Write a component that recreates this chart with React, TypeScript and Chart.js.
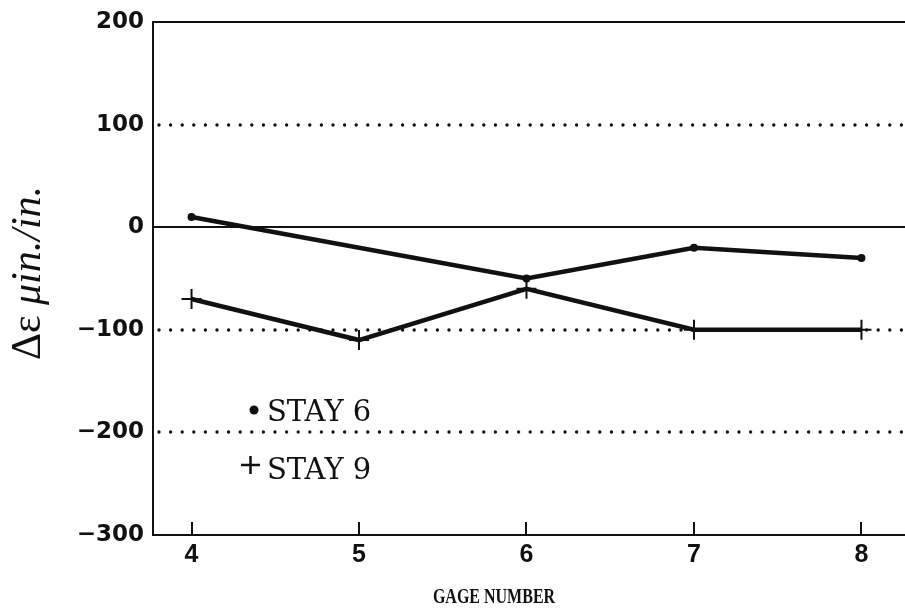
import React, { useEffect, useRef } from 'react';
import { Chart, registerables } from 'chart.js';

Chart.register(...registerables);

// ---- data ----
const gageNumbers = [4, 5, 6, 7, 8];
const stay6 = [10, null, -50, -20, -30];
const stay9 = [-70, -110, -60, -100, -100];
const yTickValues = [-300, -200, -100, 0, 100, 200];
const solidGridValues = [200, 0];
const dottedGridValues = [100, -100, -200];
const legendLabels = ['STAY 6', 'STAY 9'];
const xTitle = 'GAGE NUMBER';
const yTitleUpright = 'Δε ';
const yTitleItalic = 'μin./in.';

const INK = '#111';
const CANVAS_W = 917; // the plot frame runs off the right edge of the 905px view
const CANVAS_H = 611;

const decorPlugin = {
  id: 'decor',
  beforeDatasetsDraw(chart: any) {
    const { ctx, chartArea, scales } = chart;
    const y = scales.y;
    const x = scales.x;
    ctx.save();
    ctx.strokeStyle = INK;
    ctx.fillStyle = INK;
    ctx.lineWidth = 2;
    solidGridValues.forEach((v) => {
      const py = Math.round(y.getPixelForValue(v));
      ctx.beginPath();
      ctx.moveTo(chartArea.left, py);
      ctx.lineTo(chart.width, py);
      ctx.stroke();
    });
    ctx.lineWidth = 3.4;
    ctx.lineCap = 'round';
    ctx.setLineDash([0, 11.6]);
    dottedGridValues.forEach((v) => {
      const py = Math.round(y.getPixelForValue(v));
      ctx.beginPath();
      ctx.moveTo(chartArea.left + 6, py);
      ctx.lineTo(chart.width, py);
      ctx.stroke();
    });
    ctx.setLineDash([]);
    ctx.lineCap = 'butt';
    ctx.lineWidth = 2;
    gageNumbers.forEach((g) => {
      const px = Math.round(x.getPixelForValue(g));
      ctx.beginPath();
      ctx.moveTo(px, chartArea.bottom);
      ctx.lineTo(px, chartArea.bottom - 13);
      ctx.stroke();
    });
    // extend bottom axis line to the edge
    ctx.beginPath();
    ctx.moveTo(chartArea.left, Math.round(chartArea.bottom));
    ctx.lineTo(chart.width, Math.round(chartArea.bottom));
    ctx.stroke();
    ctx.restore();
  },
  afterDraw(chart: any) {
    const { ctx } = chart;
    ctx.save();
    ctx.fillStyle = INK;
    ctx.strokeStyle = INK;

    ctx.save();
    ctx.translate(494, 603);
    ctx.scale(0.8, 1);
    ctx.font = 'bold 20px "Liberation Serif"';
    ctx.textAlign = 'center';
    ctx.textBaseline = 'alphabetic';
    ctx.fillText(xTitle, 0, 0);
    ctx.restore();

    ctx.save();
    ctx.translate(40, 273);
    ctx.rotate(-Math.PI / 2);
    ctx.textBaseline = 'alphabetic';
    ctx.textAlign = 'left';
    const upFont = '42px "Liberation Serif"';
    const itFont = 'italic 42px "Liberation Serif"';
    ctx.font = upFont;
    const w1 = ctx.measureText(yTitleUpright).width;
    ctx.font = itFont;
    const w2 = ctx.measureText(yTitleItalic).width;
    const start = -(w1 + w2) / 2;
    ctx.font = upFont;
    ctx.fillText(yTitleUpright, start, 0);
    ctx.font = itFont;
    ctx.fillText(yTitleItalic, start + w1, 0);
    ctx.restore();

    ctx.font = '29px "DejaVu Serif"';
    ctx.textAlign = 'left';
    ctx.textBaseline = 'alphabetic';
    ctx.beginPath();
    ctx.arc(254, 410, 4.5, 0, Math.PI * 2);
    ctx.fill();
    ctx.fillText(legendLabels[0], 267, 421);
    ctx.lineWidth = 2.5;
    ctx.beginPath();
    ctx.moveTo(241, 465);
    ctx.lineTo(260, 465);
    ctx.moveTo(250.5, 456);
    ctx.lineTo(250.5, 474);
    ctx.stroke();
    ctx.fillText(legendLabels[1], 267, 479);

    ctx.restore();
  },
};

export default function App() {
  const canvasRef = useRef<HTMLCanvasElement | null>(null);

  useEffect(() => {
    const canvas = canvasRef.current;
    if (!canvas) return;
    const chart = new Chart(canvas, {
      type: 'line',
      data: {
        datasets: [
          {
            label: legendLabels[0],
            data: gageNumbers.map((g, i) => ({ x: g, y: stay6[i] })),
            borderColor: INK,
            backgroundColor: INK,
            borderWidth: 4.5,
            pointRadius: 4,
            pointBorderWidth: 0,
            pointBackgroundColor: INK,
            spanGaps: true,
            tension: 0,
          },
          {
            label: legendLabels[1],
            data: gageNumbers.map((g, i) => ({ x: g, y: stay9[i] })),
            borderColor: INK,
            backgroundColor: INK,
            borderWidth: 4.5,
            pointStyle: 'cross',
            pointRadius: 10,
            pointBorderWidth: 2,
            pointBorderColor: INK,
            tension: 0,
          },
        ],
      } as any,
      options: {
        animation: false,
        responsive: false,
        maintainAspectRatio: false,
        layout: { padding: { top: 22, right: 0, bottom: 0, left: 0 } },
        plugins: {
          legend: { display: false },
          tooltip: { enabled: false },
          title: { display: false },
        },
        scales: {
          x: {
            type: 'linear',
            min: 3.77,
            max: 8.26,
            grid: { display: false, drawTicks: false },
            border: { display: true, color: INK, width: 2 },
            afterBuildTicks: (scale: any) => {
              scale.ticks = gageNumbers.map((v) => ({ value: v }));
            },
            afterFit: (scale: any) => {
              scale.height = 76;
              scale.paddingLeft = 0;
              scale.paddingRight = 0;
            },
            ticks: {
              color: INK,
              padding: 5,
              font: { family: '"Liberation Sans"', size: 25, weight: 'bold' },
              callback: (v: any) => String(v),
            },
          },
          y: {
            type: 'linear',
            min: -300,
            max: 200,
            grid: { display: false, drawTicks: false },
            border: { display: true, color: INK, width: 2 },
            afterBuildTicks: (scale: any) => {
              scale.ticks = yTickValues.map((v) => ({ value: v }));
            },
            afterFit: (scale: any) => {
              scale.width = 153;
              scale.paddingTop = 0;
              scale.paddingBottom = 0;
            },
            ticks: {
              color: INK,
              padding: 9,
              font: { family: '"DejaVu Sans"', size: 23, weight: 'bold' },
              callback: (v: any) => (Number(v) < 0 ? '\u2212' + Math.abs(Number(v)) : String(v)),
            },
          },
        },
      } as any,
      plugins: [decorPlugin],
    });
    return () => chart.destroy();
  }, []);

  return (
    <div style={{ position: 'fixed', left: 0, top: 0, width: 905, height: 611, overflow: 'hidden', background: '#fff' }}>
      <canvas ref={canvasRef} width={CANVAS_W} height={CANVAS_H} style={{ display: 'block' }} />
    </div>
  );
}
